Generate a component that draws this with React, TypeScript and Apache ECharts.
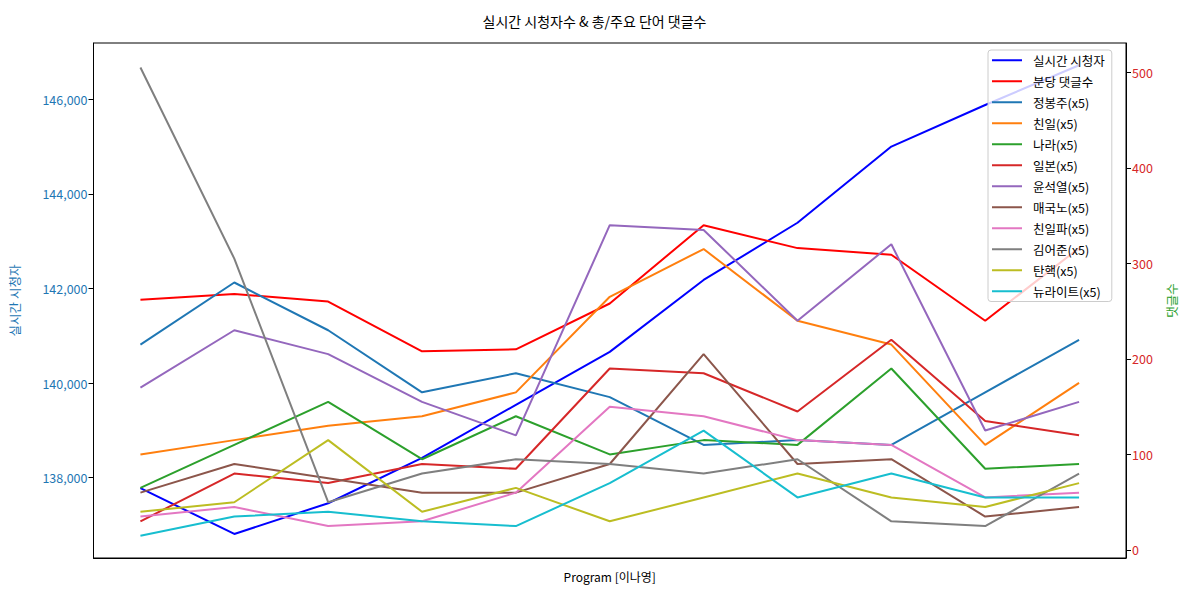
import React, { useEffect, useRef } from "react";
import * as echarts from "echarts";

const categories = ["1", "2", "3", "4", "5", "6", "7", "8", "9", "10", "11"];
const viewers = [137780, 136810, 137460, 138420, 139540, 140660, 142180, 143390, 145000, 145880, 146720];
const comments = [262, 268, 260, 208, 210, 258, 340, 316, 309, 240, 316];

const kwNames = ["정봉주(x5)", "친일(x5)", "나라(x5)", "일본(x5)", "윤석열(x5)", "매국노(x5)", "친일파(x5)", "김어준(x5)", "탄핵(x5)", "뉴라이트(x5)"];
const jeongbongju = [215, 280, 230, 165, 185, 160, 110, 115, 110, 165, 220];
const chinil = [100, 115, 130, 140, 165, 265, 315, 240, 215, 110, 175];
const nara = [65, 110, 155, 95, 140, 100, 115, 110, 190, 85, 90];
const ilbon = [30, 80, 70, 90, 85, 190, 185, 145, 220, 135, 120];
const yoon = [170, 230, 205, 155, 120, 340, 335, 240, 320, 125, 155];
const maegukno = [60, 90, 75, 60, 60, 90, 205, 90, 95, 35, 45];
const chinilpa = [35, 45, 25, 30, 60, 150, 140, 115, 110, 55, 60];
const kimeojun = [505, 305, 50, 80, 95, 90, 80, 95, 30, 25, 80];
const tanhaek = [40, 50, 115, 40, 65, 30, 55, 80, 55, 45, 70];
const newright = [15, 35, 40, 30, 25, 70, 125, 55, 80, 55, 55];
const kwData = [jeongbongju, chinil, nara, ilbon, yoon, maegukno, chinilpa, kimeojun, tanhaek, newright];
const kwColors = ["#1f77b4", "#ff7f0e", "#2ca02c", "#d62728", "#9467bd", "#8c564b", "#e377c2", "#7f7f7f", "#bcbd22", "#17becf"];

const leftTicks = [138000, 140000, 142000, 144000, 146000];
const rightTicks = [0, 100, 200, 300, 400, 500];

const FONT = "'Noto Sans CJK KR', 'Noto Sans', sans-serif";

export default function App() {
  const ref = useRef<HTMLDivElement>(null);
  useEffect(() => {
    document.body.style.margin = "0";
    const chart = echarts.init(ref.current!, null, { renderer: "svg" });
    const series: any[] = [
      {
        name: "실시간 시청자",
        type: "line",
        yAxisIndex: 0,
        data: viewers,
        symbol: "none",
        lineStyle: { color: "#0000ff", width: 2 },
        itemStyle: { color: "#0000ff" },
        z: 2,
      },
      {
        name: "분당 댓글수",
        type: "line",
        yAxisIndex: 1,
        data: comments,
        symbol: "none",
        lineStyle: { color: "#ff0000", width: 2 },
        itemStyle: { color: "#ff0000" },
        z: 3,
      },
      ...kwNames.map((n, i) => ({
        name: n,
        type: "line",
        yAxisIndex: 1,
        data: kwData[i],
        symbol: "none",
        lineStyle: { color: kwColors[i], width: 2 },
        itemStyle: { color: kwColors[i] },
        z: 3,
      })),
    ];
    chart.setOption({
      animation: false,
      textStyle: { fontFamily: FONT },
      title: {
        text: "실시간 시청자수 & 총/주요 단어 댓글수",
        left: "center",
        top: 9,
        textStyle: { fontSize: 14, fontWeight: "normal", color: "#000", fontFamily: FONT },
      },
      grid: {
        left: 93,
        right: 63,
        top: 43,
        bottom: 34,
        show: true,
        borderColor: "#000",
        borderWidth: 1,
        containLabel: false,
      },
      legend: {
        orient: "vertical",
        left: 988,
        top: 50,
        icon: "rect",
        itemWidth: 30,
        itemHeight: 2,
        itemGap: 8.5,
        padding: [4, 7, 4, 4],
        backgroundColor: "rgba(255,255,255,0.8)",
        borderColor: "#cccccc",
        borderWidth: 1,
        borderRadius: 3,
        textStyle: { fontSize: 12.5, color: "#000", fontFamily: FONT, padding: [0, 0, 0, 6] },
        data: ["실시간 시청자", "분당 댓글수", ...kwNames],
      },
      xAxis: {
        type: "category",
        data: categories,
        boundaryGap: true,
        name: "Program [이나영]",
        nameLocation: "middle",
        nameGap: 12,
        nameTextStyle: { fontSize: 12, color: "#000", fontFamily: FONT },
        axisLine: { onZero: false, lineStyle: { color: "#000" } },
        axisTick: { show: false },
        axisLabel: { show: false },
        splitLine: { show: false },
      },
      yAxis: [
        {
          type: "value",
          min: 136302,
          max: 147190,
          position: "left",
          name: "실시간 시청자",
          nameLocation: "middle",
          nameGap: 73,
          nameTextStyle: { fontSize: 12.5, color: "#1f77b4", fontFamily: FONT },
          axisLine: { show: true, onZero: false, lineStyle: { color: "#000" } },
          axisTick: { show: true, length: 5, customValues: leftTicks, lineStyle: { color: "#000" } },
          axisLabel: {
            customValues: leftTicks,
            margin: 6,
            fontSize: 12.5,
            color: "#1f77b4",
            fontFamily: FONT,
            formatter: (v: number) => v.toLocaleString("en-US"),
          },
          splitLine: { show: false },
        },
        {
          type: "value",
          min: -8.4,
          max: 530.7,
          position: "right",
          name: "댓글수",
          nameLocation: "middle",
          nameGap: 39,
          nameTextStyle: { fontSize: 12.5, color: "#2ca02c", fontFamily: FONT },
          axisLine: { show: true, onZero: false, lineStyle: { color: "#000" } },
          axisTick: { show: true, length: 5, customValues: rightTicks, lineStyle: { color: "#000" } },
          axisLabel: {
            customValues: rightTicks,
            margin: 6,
            fontSize: 12.5,
            color: "#d62728",
            fontFamily: FONT,
          },
          splitLine: { show: false },
        },
      ],
      series,
    });
    return () => chart.dispose();
  }, []);
  return <div ref={ref} style={{ width: 1189, height: 592 }} />;
}
